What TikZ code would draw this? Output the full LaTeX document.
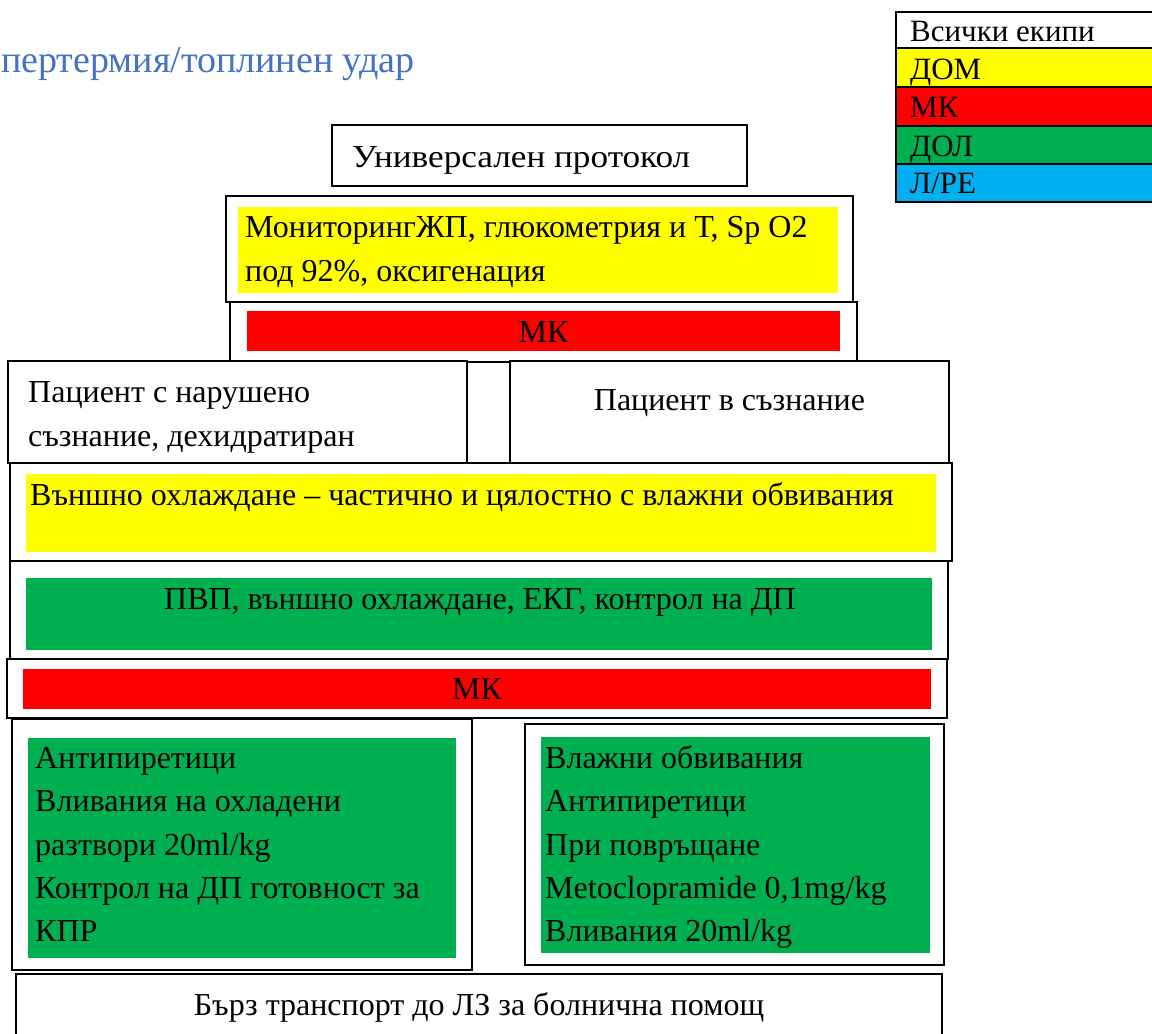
\documentclass[tikz,border=0pt]{standalone}
\usepackage{fontspec}
\setmainfont{Liberation Serif}
\newfontfamily\widefont[FakeStretch=1.1]{Liberation Serif}
\usetikzlibrary{fit}
\definecolor{myyellow}{HTML}{FFFF00}
\definecolor{myred}{HTML}{FF0000}
\definecolor{mygreen}{HTML}{00B050}
\definecolor{myblue}{HTML}{00B0F0}
\definecolor{titleblue}{HTML}{4472C4}
\tikzset{
  frame/.style={draw=black, line width=1.6pt, fill=white, inner sep=0pt},
  band/.style={draw=none, inner sep=0pt},
  legendrow/.style={draw=black, line width=1.6pt, inner sep=0pt},
  txt/.style={inner sep=0pt, font=\fontsize{32}{43}\selectfont, align=left},
  legtxt/.style={inner sep=0pt, font=\fontsize{31}{36}\selectfont},
}
\begin{document}
\begin{tikzpicture}[x=1pt,y=-1pt]
\useasboundingbox (0,0) rectangle (1152,1034);
\fill[white] (0,0) rectangle (1152,1034);

% title
\node[inner sep=0pt, anchor=base east, text=titleblue, font=\fontsize{38}{42}\selectfont] (title) at (415,72) {Хипертермия/топлинен удар};

% legend
\node[legendrow, fill=white, fit={(896,12) (1160,48)}] (lg0) {};
\node[legendrow, fill=myyellow, fit={(896,48) (1160,87)}] (lg1) {};
\node[legendrow, fill=myred, fit={(896,87) (1160,126)}] (lg2) {};
\node[legendrow, fill=mygreen, fit={(896,126) (1160,164)}] (lg3) {};
\node[legendrow, fill=myblue, fit={(896,164) (1160,202)}] (lg4) {};
\node[legtxt, anchor=base west] (lt0) at (910,41) {Всички екипи};
\node[legtxt, anchor=base west] (lt1) at (910,79) {ДОМ};
\node[legtxt, anchor=base west] (lt2) at (910,117) {МК};
\node[legtxt, anchor=base west] (lt3) at (910,156) {ДОЛ};
\node[legtxt, anchor=base west] (lt4) at (910,193) {Л/РЕ};

% universal protocol
\node[frame, fit={(332,125) (747,186)}] (univ) {};
\node[txt, anchor=base west, font=\widefont\fontsize{32}{43}\selectfont] (univt) at (352,167) {Универсален протокол};

% monitoring
\node[frame, fit={(226,196) (853,302)}] (mon) {};
\node[band, fill=myyellow, fit={(238,207) (838,293)}] (monb) {};
\node[txt, anchor=base west] (mont1) at (245,237) {МониторингЖП, глюкометрия и Т, Sp O2};
\node[txt, anchor=base west] (mont2) at (245,281) {под 92\%, оксигенация};

% MK 1
\node[frame, fit={(230,302) (857,362)}] (mk1) {};
\node[band, fill=myred, fit={(247,311) (840,351)}] (mk1b) {};
\node[txt, anchor=base] (mk1t) at (543.5,342) {МК};

% patients
\node[frame, fit={(8,361) (467,463)}] (pl) {};
\node[txt, anchor=base west] (plt1) at (28,402) {Пациент с нарушено};
\node[txt, anchor=base west] (plt2) at (28,446) {съзнание, дехидратиран};
\node[frame, fit={(510,361) (949,463)}] (pr) {};
\node[txt, anchor=base] (prt) at (729.5,410) {Пациент в съзнание};

% external cooling
\node[frame, fit={(10,463) (952,561)}] (cool) {};
\node[band, fill=myyellow, fit={(26,474) (936,552)}] (coolb) {};
\node[txt, anchor=base west] (coolt) at (30,505) {Външно охлаждане – частично и цялостно с влажни обвивания};

% green PVP
\node[frame, fit={(10,561) (948,659)}] (pvp) {};
\node[band, fill=mygreen, fit={(26,578) (932,650)}] (pvpb) {};
\node[txt, anchor=base] (pvpt) at (480,609) {ПВП, външно охлаждане, ЕКГ, контрол на ДП};

% MK 2
\node[frame, fit={(7,659) (947,718)}] (mk2) {};
\node[band, fill=myred, fit={(23,669) (931,709)}] (mk2b) {};
\node[txt, anchor=base] (mk2t) at (477,699) {МК};

% left green list
\node[frame, fit={(12,719) (472,970)}] (gl) {};
\node[band, fill=mygreen, fit={(28,738) (456,958)}] (glb) {};
\node[txt, anchor=base west] (glt1) at (35,768) {Антипиретици};
\node[txt, anchor=base west] (glt2) at (35,811) {Вливания на охладени};
\node[txt, anchor=base west] (glt3) at (35,855) {разтвори 20ml/kg};
\node[txt, anchor=base west] (glt4) at (35,898) {Контрол на ДП готовност за};
\node[txt, anchor=base west] (glt5) at (35,941) {КПР};

% right green list
\node[frame, fit={(525,724) (944,965)}] (gr) {};
\node[band, fill=mygreen, fit={(541,737) (930,953)}] (grb) {};
\node[txt, anchor=base west] (grt1) at (545,768) {Влажни обвивания};
\node[txt, anchor=base west] (grt2) at (545,811) {Антипиретици};
\node[txt, anchor=base west] (grt3) at (545,855) {При повръщане};
\node[txt, anchor=base west] (grt4) at (545,898) {Metoclopramide 0,1mg/kg};
\node[txt, anchor=base west] (grt5) at (545,941) {Вливания 20ml/kg};

% transport
\node[frame, fit={(16,974) (942,1045)}] (tr) {};
\node[txt, anchor=base] (trt) at (479,1015) {Бърз транспорт до ЛЗ за болнична помощ};
\end{tikzpicture}
\end{document}
